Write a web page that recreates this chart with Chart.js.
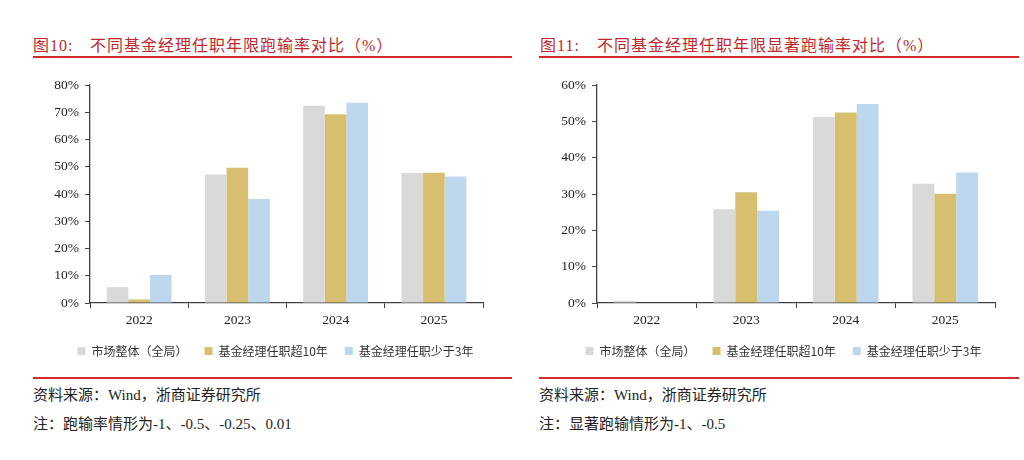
<!DOCTYPE html>
<html>
<head>
<meta charset="utf-8">
<script src="https://cdn.jsdelivr.net/npm/chart.js@4/dist/chart.umd.min.js"></script>
<style>
body{margin:0;background:#fff;width:1024px;height:460px;position:relative;overflow:hidden;font-family:"Liberation Serif","Noto Sans CJK SC",serif;}
.title{position:absolute;top:32px;font-size:16px;color:#c0282d;white-space:pre;letter-spacing:1px;}
.rule{position:absolute;height:1.5px;background:#d42a2a;}
.note{position:absolute;font-size:15px;color:#222;white-space:pre;}
.box{position:absolute;top:70px;width:480px;height:297px;}
</style>
</head>
<body>

<div class="title" style="left:33px">图10:</div>
<div class="title" style="left:90px">不同基金经理任职年限跑输率对比（%）</div>
<div class="rule" style="left:33px;width:479px;top:56px"></div>
<div class="box" style="left:30px"><canvas id="c1"></canvas></div>
<div class="rule" style="left:33px;width:479px;top:377px"></div>
<div class="note" style="left:33px;top:383px">资料来源：Wind，浙商证券研究所</div>
<div class="note" style="left:33px;top:412px">注：跑输率情形为-1、-0.5、-0.25、0.01</div>

<div class="title" style="left:540px">图11:</div>
<div class="title" style="left:597px">不同基金经理任职年限显著跑输率对比（%）</div>
<div class="rule" style="left:539px;width:480px;top:56px"></div>
<div class="box" style="left:536px"><canvas id="c2"></canvas></div>
<div class="rule" style="left:539px;width:480px;top:377px"></div>
<div class="note" style="left:539px;top:383px">资料来源：Wind，浙商证券研究所</div>
<div class="note" style="left:539px;top:412px">注：显著跑输情形为-1、-0.5</div>

<script>
let years=["2022","2023","2024","2025"];
let seriesNames=["市场整体（全局）","基金经理任职超10年","基金经理任职少于3年"];
let colors=["#d9d9d9","#d8bf6f","#bdd7ee"];

// 跑输率
let lossMarket=[5.8,47.2,72.4,47.7];
let lossOver10=[1.3,49.6,69.3,47.8];
let lossUnder3=[10.3,38.2,73.5,46.4];

// 显著跑输率
let sigMarket=[0.6,25.8,51.2,32.8];
let sigOver10=[0,30.5,52.4,30.1];
let sigUnder3=[0,25.4,54.8,35.9];

let yTicks1=[0,10,20,30,40,50,60,70,80];
let yTicks2=[0,10,20,30,40,50,60];

let axisColor="#404040";
let tickFont={family:"Liberation Serif",size:13.5};

// nudge the legend sideways, the original isn't centred on the canvas
const legendShift={
id:"legendShift",
afterLayout(chart,args,opts){
if(!chart.legend) return;
chart.legend.left+=opts.dx;
chart.legend.right+=opts.dx;
}
};

function makeChart(id,data,ticks,yWidth,padRight,dx){
let sets=data.map((d,i)=>({
label:seriesNames[i],
data:d,
backgroundColor:colors[i],
categoryPercentage:0.66,
barPercentage:1
}));
return new Chart(document.getElementById(id),{
type:"bar",
data:{labels:years,datasets:sets},
plugins:[legendShift],
options:{
responsive:true,
maintainAspectRatio:false,
animation:false,
layout:{padding:{top:15,right:padRight,bottom:0,left:0}},
plugins:{
legendShift:{dx:dx},
tooltip:{enabled:false},
legend:{
position:"bottom",
labels:{
boxWidth:8,boxHeight:8,padding:17,color:"#333",
font:{family:"Noto Sans CJK SC",size:12}
}
}
},
scales:{
x:{
grid:{display:true,drawOnChartArea:false,offset:true,tickLength:5,color:axisColor},
border:{display:true,color:axisColor,width:1.3},
ticks:{color:"#222",font:tickFont,padding:4},
afterFit:s=>{s.height=25;}
},
y:{
min:ticks[0],max:ticks[ticks.length-1],
afterBuildTicks:s=>{s.ticks=ticks.map(v=>({value:v}));},
grid:{display:true,drawOnChartArea:false,tickLength:5,color:axisColor},
border:{display:true,color:axisColor,width:1.3},
ticks:{color:"#222",font:tickFont,padding:6,callback:v=>v+"%"},
afterFit:s=>{s.width=yWidth;}
}
}
}
});
}

makeChart("c1",[lossMarket,lossOver10,lossUnder3],yTicks1,60,27,19);
makeChart("c2",[sigMarket,sigOver10,sigUnder3],yTicks2,61,21,18);
</script>
</body>
</html>
